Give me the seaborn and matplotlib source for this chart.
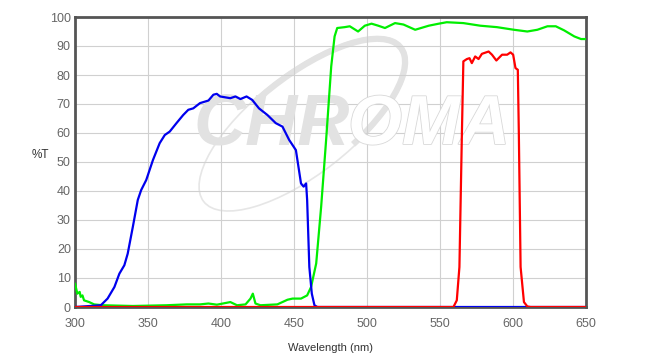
import numpy as np
import pandas as pd
import matplotlib
matplotlib.use("Agg")
import matplotlib.pyplot as plt
from matplotlib.patches import Ellipse, Arc
from matplotlib.transforms import IdentityTransform
import matplotlib.patheffects as pe
import seaborn as sns

# ---- data ----
blue_wl = [300, 317.7, 322.3, 327, 330.4, 333.8, 336.1, 339.6, 343, 345.3, 348.8, 353.4, 358, 361.5,
           364.9, 369.5, 374.1, 377.6, 381, 385.6, 391.4, 394.8, 397.1, 399.4, 406.4, 409.9, 413.3,
           417.5, 421.4, 426, 431.8, 437.5, 442.1, 446.7, 451.3, 454.8, 456.6, 458.3, 459, 460.5,
           462.2, 464, 466, 650]
blue_t = [0, 0.6, 2.9, 6.9, 11.5, 14.4, 18.4, 27.6, 36.9, 40.3, 43.8, 50.7, 56.5, 59.3,
          60.5, 63.4, 66.2, 68, 68.5, 70.3, 71.2, 73.2, 73.5, 72.6, 72, 72.6, 71.7,
          72.6, 71.4, 68.5, 66.2, 63.4, 62.2, 57.6, 54.1, 42.6, 41.5, 42.6, 36.9, 13.8,
          4.6, 0.6, 0, 0]

green_wl = [300, 301.6, 303.2, 303.9, 305.1, 306.2, 309.7, 313.1, 318.9, 339.6, 362.7, 376.5, 385.7,
            391.4, 397.2, 406.4, 411, 416.8, 420.2, 421.8, 423.6, 427, 438.6, 445.5, 449, 454.8,
            459, 461.7, 465.2, 468.6, 472, 475.5, 477.8, 479.6, 484.7, 488.2, 493.9, 498.5, 503.1,
            507.7, 512.3, 519.2, 525, 533, 542.3, 549.2, 554.6, 566, 577.6, 589, 600.6, 609.8,
            616.7, 623.6, 629.3, 635, 642, 646.6, 650]
green_t = [8.1, 4.6, 5.2, 3.5, 4.0, 2.3, 1.7, 0.9, 0.6, 0.35, 0.6, 0.9, 0.9,
           1.2, 0.8, 1.7, 0.6, 0.9, 2.9, 4.6, 1.2, 0.6, 0.9, 2.5, 2.9, 2.9,
           4.0, 6.9, 15, 34.6, 57.6, 83, 93.3, 96.2, 96.5, 96.8, 95, 97, 97.7,
           97, 96.2, 97.9, 97.4, 95.6, 97, 97.7, 98.2, 97.9, 97, 96.5, 95.6, 95,
           95.6, 96.8, 96.8, 95.4, 93.3, 92.4, 92.4]

red_wl = [300, 559.2, 561.5, 563.3, 565, 566, 568.4, 570.2, 571.8, 574.1, 576.4, 578.7, 583.3,
          585.6, 588.6, 592.5, 596, 598.3, 600.1, 601.7, 603.3, 604, 605.2, 607.5, 609.8, 612, 650]
red_t = [0, 0, 2.3, 13.8, 59.9, 84.7, 85.5, 85.8, 84.1, 86.4, 85.5, 87.3, 88.1,
         87, 85, 87, 87, 87.8, 87, 82.4, 81.8, 59.9, 13.8, 1.7, 0.2, 0, 0]

x_ticks = [300, 350, 400, 450, 500, 550, 600, 650]
y_ticks = [0, 10, 20, 30, 40, 50, 60, 70, 80, 90, 100]

# ---- plot ----
sns.set_theme(style="white")
plt.rcParams['font.family'] = ['Liberation Sans', 'DejaVu Sans']

W, H = 652, 354
fig = plt.figure(figsize=(W / 100, H / 100), dpi=100)
ax = fig.add_axes([75 / W, 1 - 307 / H, 511 / W, 290 / H])

# watermark (pixel-space swoosh + logo text)
cx, cy = 303, H - 124
ax.add_artist(Ellipse((cx, cy), 252, 100, angle=38, fill=False, edgecolor="#e6e6e6",
                      linewidth=1.2, transform=IdentityTransform(), zorder=0.5))
ax.add_artist(Arc((cx, cy), 248, 96, angle=38, theta1=-60, theta2=120, edgecolor="#e2e2e2",
                  linewidth=4.5, transform=IdentityTransform(), zorder=0.5))
ax.text(350 / W, 1 - 126 / H, "CHR", transform=fig.transFigure, fontsize=52, fontweight="bold",
        fontstyle="italic", color="#e2e2e2", ha="right", va="center", zorder=0.6)
ax.text(348 / W, 1 - 126 / H, "OMA", transform=fig.transFigure, fontsize=50, fontweight="bold",
        fontstyle="italic", color="white", ha="left", va="center", zorder=0.6,
        path_effects=[pe.withStroke(linewidth=1.2, foreground="#d8d8d8")])

df_g = pd.DataFrame({"wl": green_wl, "t": green_t})
df_b = pd.DataFrame({"wl": blue_wl, "t": blue_t})
df_r = pd.DataFrame({"wl": red_wl, "t": red_t})
sns.lineplot(data=df_g, x="wl", y="t", ax=ax, color="#00ee00", linewidth=1.6, zorder=3, sort=False)
sns.lineplot(data=df_b, x="wl", y="t", ax=ax, color="#0000ee", linewidth=1.6, zorder=4, sort=False)
sns.lineplot(data=df_r, x="wl", y="t", ax=ax, color="#ff0000", linewidth=1.6, zorder=5, sort=False)

ax.set_xlim(300, 650)
ax.set_ylim(0, 100)
ax.set_xticks(x_ticks)
ax.set_yticks(y_ticks)
ax.grid(True, color="#d0d0d0", linewidth=0.8, zorder=0)
ax.set_axisbelow(True)
ax.tick_params(axis="both", length=0, labelsize=9, labelcolor="#666666")
ax.tick_params(axis="x", pad=8)
ax.tick_params(axis="y", pad=3)
for s in ax.spines.values():
    s.set_color("#555555")
    s.set_linewidth(2)

ax.set_xlabel("Wavelength (nm)", fontsize=8, color="#333333", labelpad=9)
ax.set_ylabel("")
fig.text(40 / W, 1 - 155 / H, "%T", fontsize=8.5, color="#333333", ha="center", va="center")

fig.savefig("out.png", dpi=100)
